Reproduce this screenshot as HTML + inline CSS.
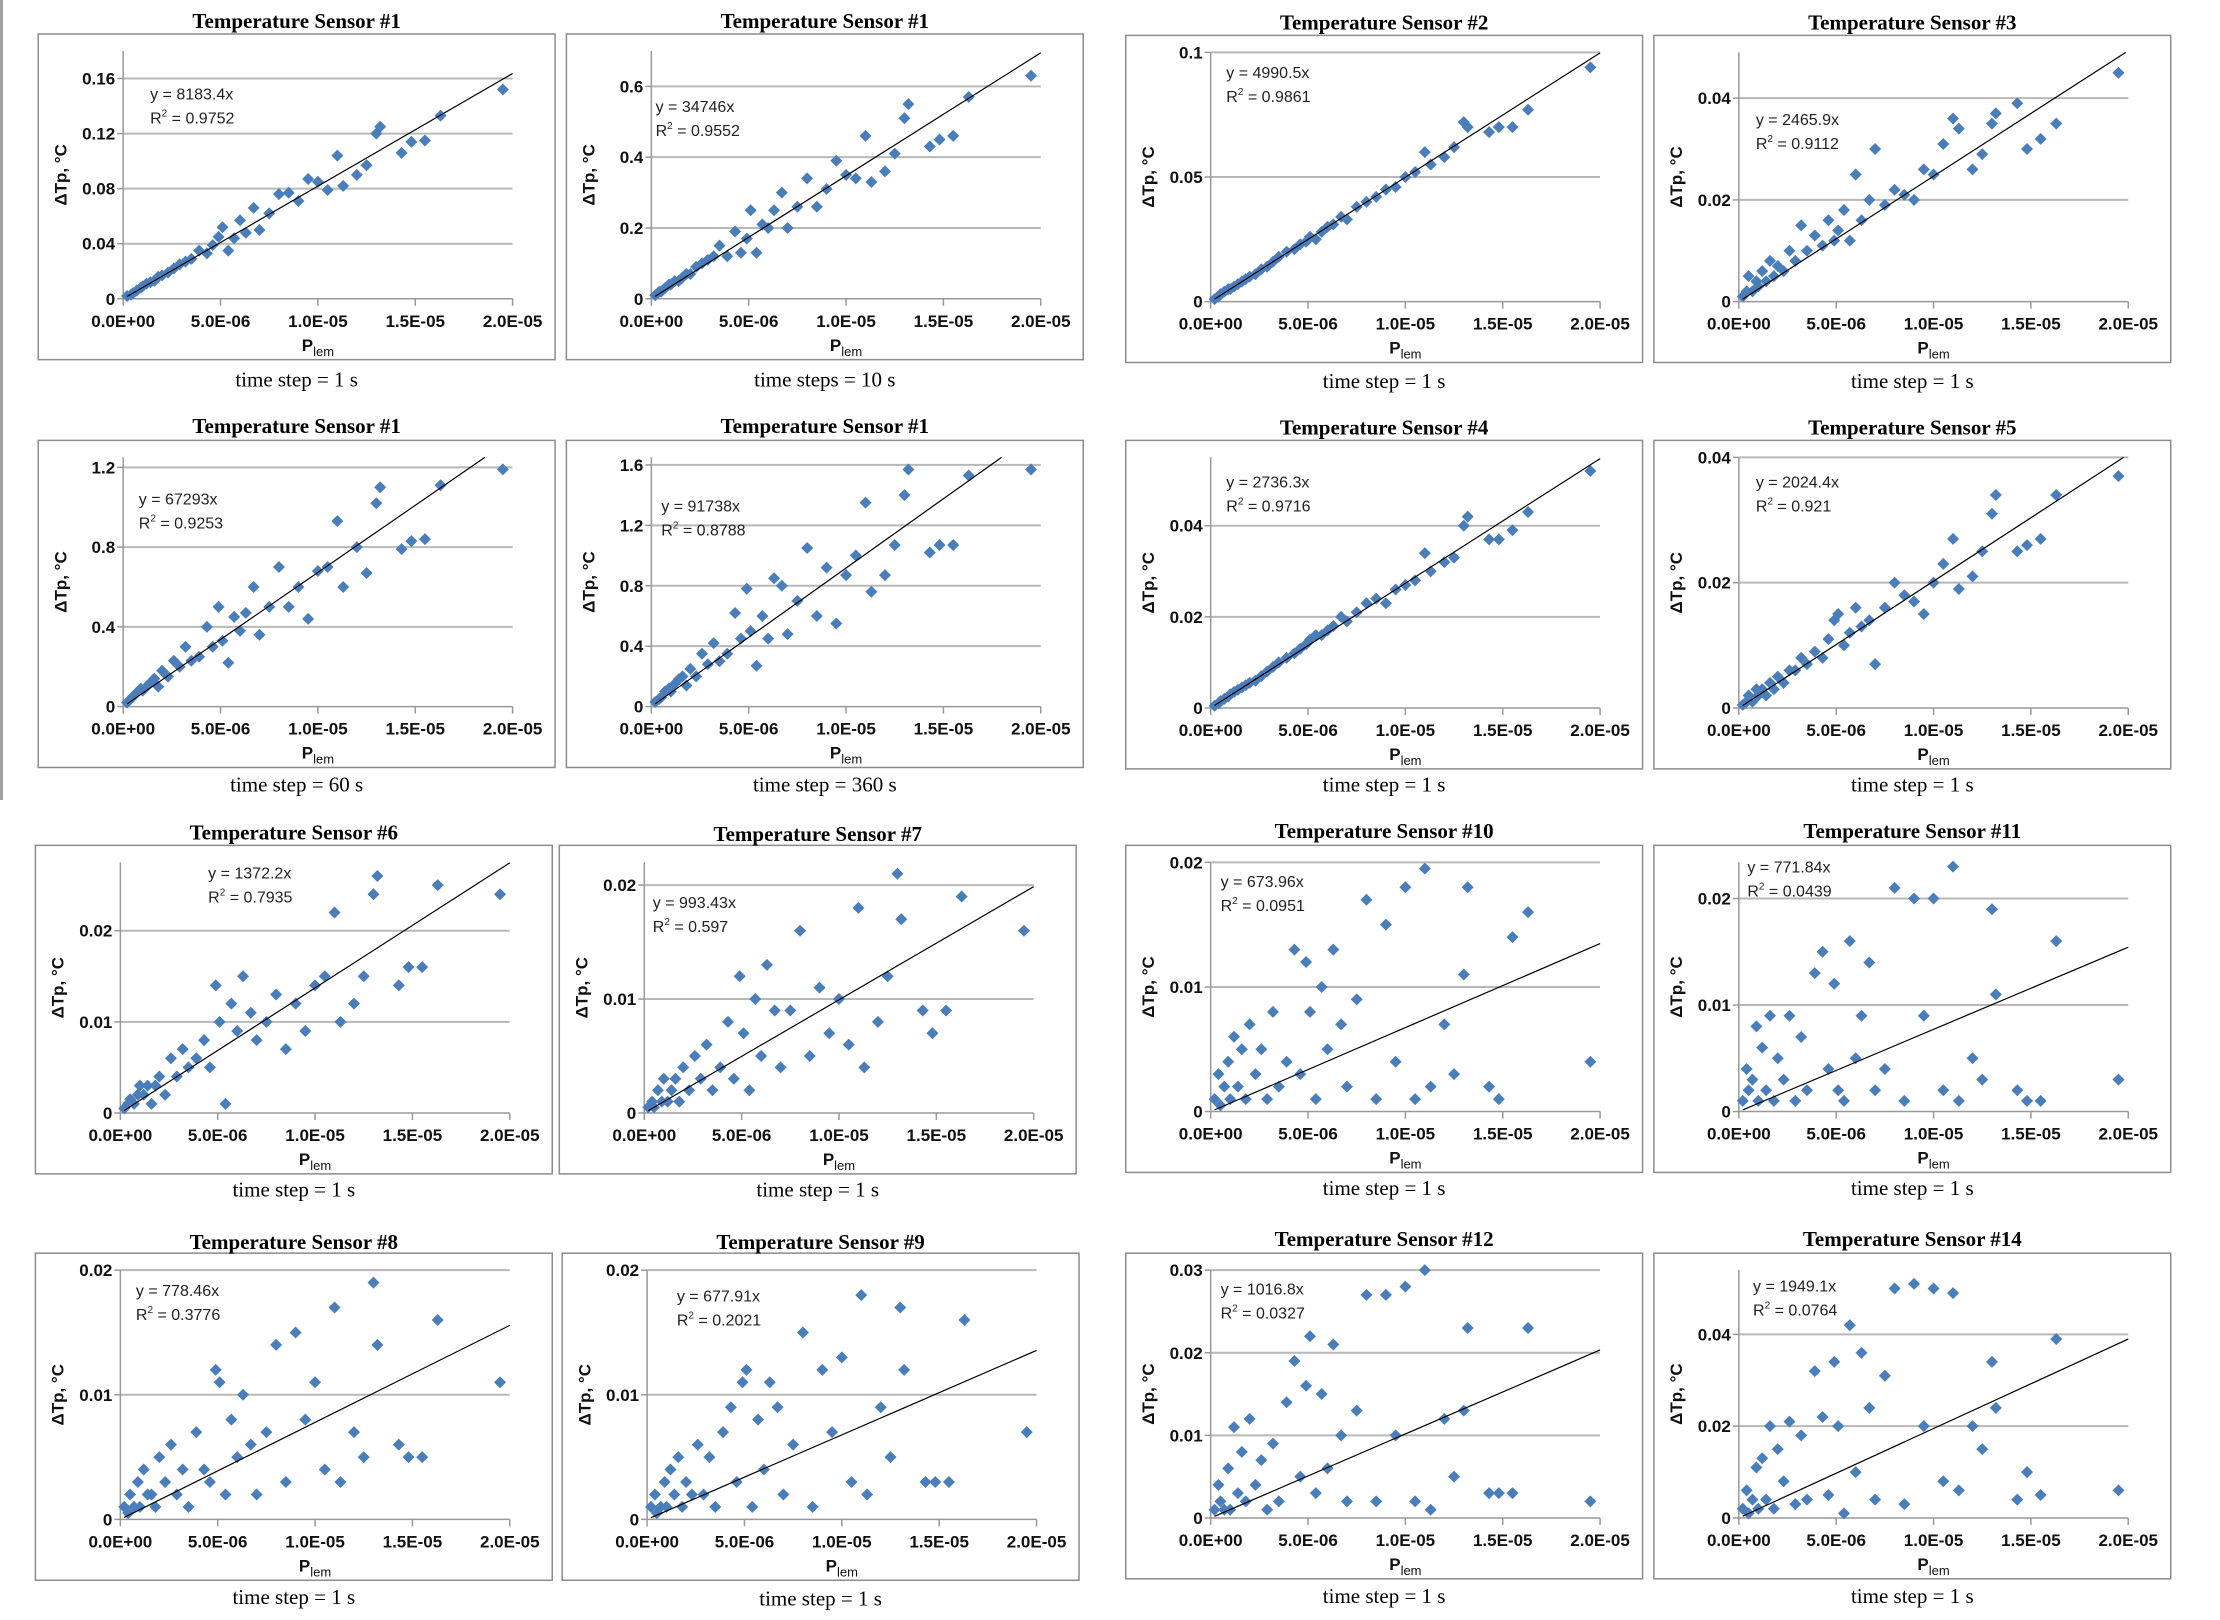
<!DOCTYPE html>
<html><head><meta charset="utf-8">
<style>
html,body{margin:0;padding:0;background:#fff;}
body{width:2220px;height:1620px;position:relative;overflow:hidden;}
svg{position:absolute;left:0;top:0;}
.tick{font-family:"Liberation Sans",sans-serif;font-weight:bold;font-size:17px;fill:#111;}
.eq{font-family:"Liberation Sans",sans-serif;font-size:16px;fill:#222;}
.ttl{font-family:"Liberation Serif",serif;font-weight:bold;font-size:21px;fill:#000;}
.cap{font-family:"Liberation Serif",serif;font-size:21px;fill:#000;}
</style></head>
<body>
<svg id="fig" width="2220" height="1620" viewBox="0 0 2220 1620"></svg>
<script>
// shared P_lem values (x 1e-6)
const plemX = [0.2,0.4,0.5,0.7,0.9,1.0,1.2,1.4,1.6,1.8,2.0,2.3,2.6,2.9,3.2,3.5,3.9,4.3,4.6,4.9,5.1,5.4,5.7,6.0,6.3,6.7,7.0,7.5,8.0,8.5,9.0,9.5,10.0,10.5,11.0,11.3,12.0,12.5,13.0,13.2,14.3,14.8,15.5,16.3,19.5];
const xTickLabels = ["0.0E+00","5.0E-06","1.0E-05","1.5E-05","2.0E-05"];
const xTickValues = [0,5,10,15,20];

const titles = ["Temperature Sensor #1","Temperature Sensor #1","Temperature Sensor #2","Temperature Sensor #3","Temperature Sensor #1","Temperature Sensor #1","Temperature Sensor #4","Temperature Sensor #5","Temperature Sensor #6","Temperature Sensor #7","Temperature Sensor #10","Temperature Sensor #11","Temperature Sensor #8","Temperature Sensor #9","Temperature Sensor #12","Temperature Sensor #14"];
const captions = ["time step = 1 s","time steps = 10 s","time step = 1 s","time step = 1 s","time step = 60 s","time step = 360 s","time step = 1 s","time step = 1 s","time step = 1 s","time step = 1 s","time step = 1 s","time step = 1 s","time step = 1 s","time step = 1 s","time step = 1 s","time step = 1 s"];
const equations = ["y = 8183.4x","y = 34746x","y = 4990.5x","y = 2465.9x","y = 67293x","y = 91738x","y = 2736.3x","y = 2024.4x","y = 1372.2x","y = 993.43x","y = 673.96x","y = 771.84x","y = 778.46x","y = 677.91x","y = 1016.8x","y = 1949.1x"];
const r2Values = ["0.9752","0.9552","0.9861","0.9112","0.9253","0.8788","0.9716","0.921","0.7935","0.597","0.0951","0.0439","0.3776","0.2021","0.0327","0.0764"];
const slopes = [8183.4,34746,4990.5,2465.9,67293,91738,2736.3,2024.4,1372.2,993.43,673.96,771.84,778.46,677.91,1016.8,1949.1];
const yMaxes = [0.18,0.7,0.1,0.049,1.25,1.65,0.055,0.04,0.0275,0.022,0.02,0.0234,0.02,0.02,0.03,0.054];
const yTickSets = [
 ["0","0.04","0.08","0.12","0.16"],["0","0.2","0.4","0.6"],["0","0.05","0.1"],["0","0.02","0.04"],
 ["0","0.4","0.8","1.2"],["0","0.4","0.8","1.2","1.6"],["0","0.02","0.04"],["0","0.02","0.04"],
 ["0","0.01","0.02"],["0","0.01","0.02"],["0","0.01","0.02"],["0","0.01","0.02"],
 ["0","0.01","0.02"],["0","0.01","0.02"],["0","0.01","0.02","0.03"],["0","0.02","0.04"]];

const ySensor1a = [0.002,0.003,0.004,0.006,0.008,0.009,0.011,0.012,0.013,0.016,0.017,0.019,0.022,0.025,0.027,0.029,0.035,0.033,0.039,0.045,0.052,0.035,0.044,0.057,0.048,0.066,0.05,0.062,0.076,0.077,0.071,0.087,0.085,0.079,0.104,0.082,0.09,0.097,0.12,0.125,0.106,0.114,0.115,0.133,0.152];
const ySensor1b = [0.01,0.02,0.02,0.03,0.04,0.04,0.05,0.05,0.06,0.07,0.07,0.09,0.1,0.11,0.12,0.15,0.12,0.19,0.13,0.17,0.25,0.13,0.21,0.2,0.25,0.3,0.2,0.26,0.34,0.26,0.31,0.39,0.35,0.34,0.46,0.33,0.36,0.41,0.51,0.55,0.43,0.45,0.46,0.57,0.63];
const ySensor2 = [0.001,0.002,0.003,0.004,0.005,0.005,0.006,0.007,0.008,0.009,0.01,0.011,0.013,0.014,0.016,0.018,0.02,0.021,0.023,0.024,0.026,0.025,0.028,0.03,0.031,0.034,0.033,0.038,0.04,0.042,0.045,0.046,0.05,0.052,0.06,0.055,0.058,0.062,0.072,0.07,0.068,0.07,0.07,0.077,0.094];
const ySensor3 = [0.001,0.002,0.005,0.002,0.004,0.003,0.006,0.004,0.008,0.005,0.007,0.006,0.01,0.008,0.015,0.01,0.013,0.011,0.016,0.012,0.014,0.018,0.012,0.025,0.016,0.02,0.03,0.019,0.022,0.021,0.02,0.026,0.025,0.031,0.036,0.034,0.026,0.029,0.035,0.037,0.039,0.03,0.032,0.035,0.045];
const ySensor1c = [0.02,0.04,0.05,0.07,0.09,0.08,0.1,0.12,0.14,0.1,0.18,0.15,0.23,0.2,0.3,0.23,0.25,0.4,0.3,0.5,0.33,0.22,0.45,0.38,0.47,0.6,0.36,0.5,0.7,0.5,0.6,0.44,0.68,0.7,0.93,0.6,0.8,0.67,1.02,1.1,0.79,0.83,0.84,1.11,1.19];
const ySensor1d = [0.03,0.05,0.06,0.1,0.12,0.1,0.15,0.18,0.2,0.14,0.25,0.2,0.35,0.28,0.42,0.3,0.35,0.62,0.45,0.78,0.5,0.27,0.6,0.45,0.85,0.8,0.48,0.7,1.05,0.6,0.92,0.55,0.87,1.0,1.35,0.76,0.87,1.07,1.4,1.57,1.02,1.07,1.07,1.53,1.57];
const ySensor4 = [0.0005,0.001,0.0015,0.002,0.0025,0.003,0.0035,0.004,0.0045,0.005,0.0055,0.006,0.007,0.008,0.009,0.01,0.011,0.012,0.013,0.014,0.015,0.016,0.016,0.017,0.018,0.02,0.019,0.021,0.023,0.024,0.023,0.026,0.027,0.028,0.034,0.03,0.032,0.033,0.04,0.042,0.037,0.037,0.039,0.043,0.052];
const ySensor5 = [0.0005,0.001,0.002,0.001,0.003,0.002,0.003,0.002,0.004,0.003,0.005,0.004,0.006,0.006,0.008,0.007,0.009,0.008,0.011,0.014,0.015,0.01,0.012,0.016,0.013,0.014,0.007,0.016,0.02,0.018,0.017,0.015,0.02,0.023,0.027,0.019,0.021,0.025,0.031,0.034,0.025,0.026,0.027,0.034,0.037];
const ySensor6 = [0.0005,0.001,0.0015,0.001,0.002,0.003,0.002,0.003,0.001,0.003,0.004,0.002,0.006,0.004,0.007,0.005,0.006,0.008,0.005,0.014,0.01,0.001,0.012,0.009,0.015,0.011,0.008,0.01,0.013,0.007,0.012,0.009,0.014,0.015,0.022,0.01,0.012,0.015,0.024,0.026,0.014,0.016,0.016,0.025,0.024];
const ySensor7 = [0.0005,0.001,0.0005,0.002,0.001,0.003,0.001,0.002,0.003,0.001,0.004,0.002,0.005,0.003,0.006,0.002,0.004,0.008,0.003,0.012,0.007,0.002,0.01,0.005,0.013,0.009,0.004,0.009,0.016,0.005,0.011,0.007,0.01,0.006,0.018,0.004,0.008,0.012,0.021,0.017,0.009,0.007,0.009,0.019,0.016];
const ySensor10 = [0.001,0.003,0.0005,0.002,0.004,0.001,0.006,0.002,0.005,0.001,0.007,0.003,0.005,0.001,0.008,0.002,0.004,0.013,0.003,0.012,0.008,0.001,0.01,0.005,0.013,0.007,0.002,0.009,0.017,0.001,0.015,0.004,0.018,0.001,0.0195,0.002,0.007,0.003,0.011,0.018,0.002,0.001,0.014,0.016,0.004];
const ySensor11 = [0.001,0.004,0.002,0.003,0.008,0.001,0.006,0.002,0.009,0.001,0.005,0.003,0.009,0.001,0.007,0.002,0.013,0.015,0.004,0.012,0.002,0.001,0.016,0.005,0.009,0.014,0.002,0.004,0.021,0.001,0.02,0.009,0.02,0.002,0.023,0.001,0.005,0.003,0.019,0.011,0.002,0.001,0.001,0.016,0.003];
const ySensor8 = [0.001,0.0005,0.002,0.001,0.003,0.001,0.004,0.002,0.002,0.001,0.005,0.003,0.006,0.002,0.004,0.001,0.007,0.004,0.003,0.012,0.011,0.002,0.008,0.005,0.01,0.006,0.002,0.007,0.014,0.003,0.015,0.008,0.011,0.004,0.017,0.003,0.007,0.005,0.019,0.014,0.006,0.005,0.005,0.016,0.011];
const ySensor9 = [0.001,0.002,0.0005,0.001,0.003,0.001,0.004,0.002,0.005,0.001,0.003,0.002,0.006,0.002,0.005,0.001,0.007,0.009,0.003,0.011,0.012,0.001,0.008,0.004,0.011,0.009,0.002,0.006,0.015,0.001,0.012,0.007,0.013,0.003,0.018,0.002,0.009,0.005,0.017,0.012,0.003,0.003,0.003,0.016,0.007];
const ySensor12 = [0.001,0.004,0.002,0.001,0.006,0.001,0.011,0.003,0.008,0.002,0.012,0.004,0.007,0.001,0.009,0.002,0.014,0.019,0.005,0.016,0.022,0.003,0.015,0.006,0.021,0.01,0.002,0.013,0.027,0.002,0.027,0.01,0.028,0.002,0.03,0.001,0.012,0.005,0.013,0.023,0.003,0.003,0.003,0.023,0.002];
const ySensor14 = [0.002,0.006,0.001,0.004,0.011,0.002,0.013,0.004,0.02,0.002,0.015,0.008,0.021,0.003,0.018,0.004,0.032,0.022,0.005,0.034,0.02,0.001,0.042,0.01,0.036,0.024,0.004,0.031,0.05,0.003,0.051,0.02,0.05,0.008,0.049,0.006,0.02,0.015,0.034,0.024,0.004,0.01,0.005,0.039,0.006];
const ySeries = [ySensor1a,ySensor1b,ySensor2,ySensor3,ySensor1c,ySensor1d,ySensor4,ySensor5,ySensor6,ySensor7,ySensor10,ySensor11,ySensor8,ySensor9,ySensor12,ySensor14];

// layout (preview coords, scaled)
const SX=1.416, SY=1.416;
const boxes=[[27,24,392,254],[400,24,765,254],[795,25,1160,256],[1168,25,1533,256],
[27,311,392,542],[400,311,765,542],[795,311,1160,543],[1168,311,1533,543],
[25,597,390,829],[395,597,760,829],[795,597,1160,828],[1168,597,1533,828],
[25,885,390,1116],[397,885,762,1116],[795,885,1160,1115],[1168,885,1533,1115]];
const eqPos=[[79,42],[63,51],[71,26],[72,59],[71,41],[67,46],[71,29],[72,29],[122,19],[66,40],[67,25],[66,15],[71,26],[81,30],[67,25],[70,23]];
const titleY=[15,15,16,16,301,301,302,302,588,589,587,587,877,877,875,875];
const capY=[268,268,269,269,554,554,554,554,840,840,839,839,1128,1129,1127,1127];

const NS="http://www.w3.org/2000/svg";
const svg=document.getElementById('fig');
function mk(tag,attrs,parent){const e=document.createElementNS(NS,tag);for(const k in attrs)e.setAttribute(k,attrs[k]);(parent||svg).appendChild(e);return e;}

const edge=mk('rect',{x:0,y:0,width:3,height:800,fill:'#a0a0a0'});



boxes.forEach((b,i)=>{
  const bx=b[0]*SX, by=b[1]*SY, bx2=b[2]*SX, by2=b[3]*SY;
  const g=mk('g',{});
  
  
  const frame=mk('rect',{x:bx,y:by,width:bx2-bx,height:by2-by,fill:'#fff',stroke:'#8c8c8c','stroke-width':1.5},g);
  
  
  const L=bx+60*SX, R=bx2-30*SX, B=by2-43*SY, T=by+12*SY;
  const ymax=yMaxes[i];
  const xs=v=>L+(v/20)*(R-L);
  const ys=v=>B-(v/ymax)*(B-T);
  yTickSets[i].forEach(t=>{
    const v=parseFloat(t), y=ys(v);
    if(v>0){const gl=mk('line',{x1:L,x2:R,y1:y,y2:y,stroke:'#b8b8b8','stroke-width':2},g);
      
      }
    mk('line',{x1:L-6,x2:L,y1:y,y2:y,stroke:'#999','stroke-width':1.5},g);
    const tx=mk('text',{x:L-8,y:y+6,'text-anchor':'end',class:'tick'},g);
    tx.textContent=t;
    
    
  });
  const ax=mk('line',{x1:L,x2:L,y1:T,y2:B,stroke:'#999','stroke-width':1.5},g);
  
  
  const axx=mk('line',{x1:L,x2:R,y1:B,y2:B,stroke:'#999','stroke-width':1.5},g);
  
  
  xTickValues.forEach((v,k)=>{
    const x=xs(v);
    mk('line',{x1:x,x2:x,y1:B,y2:B+7,stroke:'#999','stroke-width':1.5},g);
    const tx=mk('text',{x:x,y:B+28,'text-anchor':'middle',class:'tick'},g);
    tx.textContent=xTickLabels[k];
    
    
  });
  const xt=mk('text',{x:(L+R)/2,y:B+52,'text-anchor':'middle',class:'tick'},g);
  xt.innerHTML='P<tspan font-size="13" font-weight="normal" dy="5">lem</tspan>';
  
  
  const cy=(T+B)/2, cx=bx+20*SX;
  const yt=mk('text',{x:cx,y:cy,'text-anchor':'middle',class:'tick',transform:`rotate(-90 ${cx} ${cy})`},g);
  yt.textContent='ΔTp, °C';
  
  
  const pts=ySeries[i];
  plemX.forEach((xv,k)=>{
    const px=xs(xv), py=ys(pts[k]);
    const d=mk('polygon',{points:`${px},${py-6} ${px+6},${py} ${px},${py+6} ${px-6},${py}`,fill:'#4a7ebb'},g);
    
    
  });
  const s=slopes[i]*1e-6;
  let xe=20; if(s*20>ymax) xe=ymax/s;
  const xs0=0.2;
  const tl=mk('line',{x1:xs(xs0),y1:ys(s*xs0),x2:xs(xe),y2:ys(s*xe),stroke:'#000','stroke-width':1.2},g);
  
  
  const ex=bx+eqPos[i][0]*SX, ey=by+eqPos[i][1]*SY;
  const e1=mk('text',{x:ex,y:ey+6,class:'eq'},g);
  e1.textContent=equations[i];
  
  
  const e2=mk('text',{x:ex,y:ey+6+24,class:'eq'},g);
  e2.innerHTML='R<tspan font-size="10" dy="-7">2</tspan><tspan dy="7"> = '+r2Values[i]+'</tspan>';
  
  
  const tt=mk('text',{x:(bx+bx2)/2,y:titleY[i]*SY+7,'text-anchor':'middle',class:'ttl'});
  tt.textContent=titles[i];
  
  
  const cp=mk('text',{x:(bx+bx2)/2,y:capY[i]*SY+7,'text-anchor':'middle',class:'cap'});
  cp.textContent=captions[i];
  
  
});
</script>
</body></html>
